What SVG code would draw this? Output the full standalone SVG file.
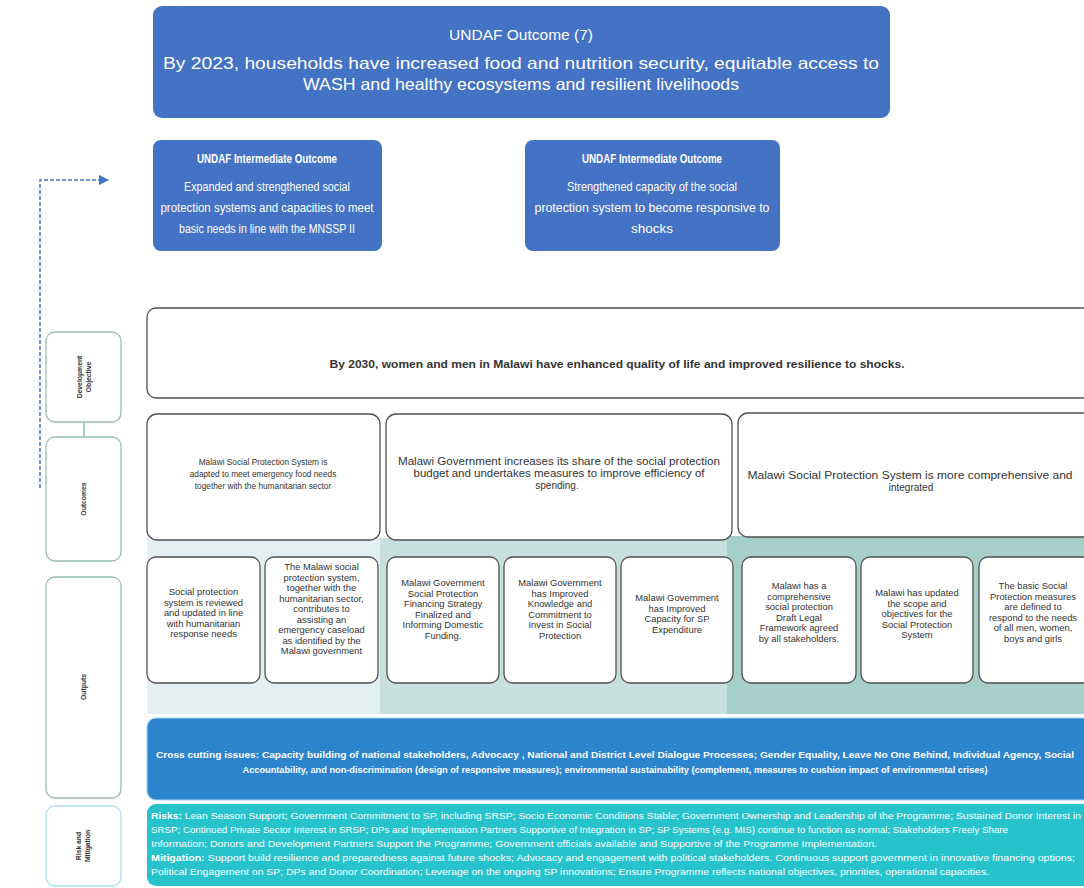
<svg xmlns="http://www.w3.org/2000/svg" width="1084" height="888" viewBox="0 0 1084 888">
<defs>
<style>
.blue{fill:#4472c4;}
.wt{fill:#ffffff;font-family:"Liberation Sans",Arial,sans-serif;text-anchor:middle;}
.box{fill:#ffffff;stroke:#505050;stroke-width:1.3;}
.lab{fill:#ffffff;stroke:#98bdb0;stroke-width:1.3;}
.t{fill:#333333;font-family:"Liberation Sans",Arial,sans-serif;text-anchor:middle;}
.o{font-size:9.4px;}
.oc{font-size:8.3px;}
.oc2{font-size:10px;}
.vl{fill:#333333;font-family:"Liberation Sans",Arial,sans-serif;text-anchor:middle;font-size:6.8px;font-weight:bold;}
.band{fill:#ffffff;font-family:"Liberation Sans",Arial,sans-serif;font-size:8.2px;}
</style>
<marker id="ah" markerWidth="10" markerHeight="10" refX="9" refY="5" orient="auto" markerUnits="userSpaceOnUse">
<path d="M0,0 L10,5 L0,10 Z" fill="#4472c4"/>
</marker>
</defs>
<rect width="1084" height="888" fill="#ffffff"/>

<g id="connectors">
<path d="M40,488 L40,180 L108,180" fill="none" stroke="#4472c4" stroke-width="1.5" stroke-dasharray="4,2" marker-end="url(#ah)"/>
<line x1="84" y1="422" x2="84" y2="437" stroke="#a9cfc8" stroke-width="2"/>
</g>

<g id="undaf-outcome">
<rect x="153" y="6" width="737" height="112" rx="9" class="blue"/>
<text x="521" y="40" class="wt" font-size="15.5">UNDAF Outcome (7)</text>
<text x="521" y="69" class="wt" font-size="16.5" textLength="716" lengthAdjust="spacingAndGlyphs">By 2023, households have increased food and nutrition security, equitable access to</text>
<text x="521" y="90" class="wt" font-size="16.5" textLength="436" lengthAdjust="spacingAndGlyphs">WASH and healthy ecosystems and resilient livelihoods</text>
</g>

<g id="intermediate-1">
<rect x="153" y="140" width="229" height="111" rx="8" class="blue"/>
<text x="267" y="163" class="wt" font-size="12" font-weight="bold" textLength="140" lengthAdjust="spacingAndGlyphs">UNDAF Intermediate Outcome</text>
<text x="267" y="191" class="wt" font-size="13" textLength="166" lengthAdjust="spacingAndGlyphs">Expanded and strengthened social</text>
<text x="267" y="212" class="wt" font-size="13" textLength="213" lengthAdjust="spacingAndGlyphs">protection systems and capacities to meet</text>
<text x="267" y="233" class="wt" font-size="13" textLength="176" lengthAdjust="spacingAndGlyphs">basic needs in line with the MNSSP II</text>
</g>

<g id="intermediate-2">
<rect x="525" y="140" width="255" height="111" rx="8" class="blue"/>
<text x="652" y="163" class="wt" font-size="12" font-weight="bold" textLength="140" lengthAdjust="spacingAndGlyphs">UNDAF Intermediate Outcome</text>
<text x="652" y="191" class="wt" font-size="13" textLength="170" lengthAdjust="spacingAndGlyphs">Strengthened capacity of the social</text>
<text x="652" y="212" class="wt" font-size="13" textLength="235" lengthAdjust="spacingAndGlyphs">protection system to become responsive to</text>
<text x="652" y="233" class="wt" font-size="13" textLength="42" lengthAdjust="spacingAndGlyphs">shocks</text>
</g>

<g id="label-development-objective">
<rect x="46" y="332" width="75" height="90" rx="9" class="lab"/>
<text class="vl" transform="translate(82,377) rotate(-90)">Development</text>
<text class="vl" transform="translate(91,377) rotate(-90)">Objective</text>
</g>
<g id="label-outcomes">
<rect x="46" y="437" width="75" height="124" rx="9" class="lab"/>
<text class="vl" transform="translate(86,499) rotate(-90)">Outcomes</text>
</g>
<g id="label-outputs">
<rect x="46" y="577" width="75" height="221" rx="9" class="lab"/>
<text class="vl" transform="translate(86,687) rotate(-90)">Outputs</text>
</g>
<g id="label-risk">
<rect x="46" y="806" width="75" height="80" rx="9" fill="#ffffff" stroke="#a8e6ea" stroke-width="1.3"/>
<text class="vl" transform="translate(81,846) rotate(-90)">Risk and</text>
<text class="vl" transform="translate(90,846) rotate(-90)">Mitigation</text>
</g>

<g id="panels">
<rect x="147" y="538" width="233" height="176" fill="#e3eff0"/>
<rect x="380" y="538" width="347" height="176" fill="#c7dfdd"/>
<rect x="727" y="536" width="357" height="178" fill="#a7cfca"/>
</g>

<g id="development-objective">
<rect x="147" y="308" width="945" height="90" rx="9" class="box"/>
<text x="617" y="368" class="t" font-size="10.5" font-weight="bold" textLength="575" lengthAdjust="spacingAndGlyphs">By 2030, women and men in Malawi have enhanced quality of life and improved resilience to shocks.</text>
</g>

<g id="outcome-1">
<rect x="147" y="414" width="233" height="126" rx="10" class="box"/>
<text class="t oc" x="263" y="465">Malawi Social Protection System is</text>
<text class="t oc" x="263" y="477">adapted to meet emergency food needs</text>
<text class="t oc" x="263" y="489">together with the humanitarian sector</text>
</g>
<g id="outcome-2">
<rect x="386" y="414" width="346" height="126" rx="10" class="box"/>
<text class="t oc2" x="559" y="465" textLength="322" lengthAdjust="spacingAndGlyphs">Malawi Government increases its share of the social protection</text>
<text class="t oc2" x="559" y="477" textLength="291" lengthAdjust="spacingAndGlyphs">budget and undertakes measures to improve efficiency of</text>
<text class="t oc2" x="557" y="489">spending.</text>
</g>
<g id="outcome-3">
<rect x="738" y="413" width="360" height="124" rx="10" class="box"/>
<text class="t oc2" x="910" y="479" textLength="325" lengthAdjust="spacingAndGlyphs">Malawi Social Protection System is more comprehensive and</text>
<text class="t oc2" x="911" y="491">integrated</text>
</g>

<g id="output-1">
<rect x="147" y="557" width="113" height="126" rx="9" class="box"/>
<text class="t o" x="203.5" y="595">Social protection</text>
<text class="t o" x="203.5" y="605.5">system is reviewed</text>
<text class="t o" x="203.5" y="616">and updated in line</text>
<text class="t o" x="203.5" y="626.5">with humanitarian</text>
<text class="t o" x="203.5" y="637">response needs</text>
</g>
<g id="output-2">
<rect x="265" y="557" width="113" height="126" rx="9" class="box"/>
<text class="t o" x="321.5" y="570">The Malawi social</text>
<text class="t o" x="321.5" y="580.5">protection system,</text>
<text class="t o" x="321.5" y="591">together with the</text>
<text class="t o" x="321.5" y="601.5">humanitarian sector,</text>
<text class="t o" x="321.5" y="612">contributes to</text>
<text class="t o" x="321.5" y="622.5">assisting an</text>
<text class="t o" x="321.5" y="633">emergency caseload</text>
<text class="t o" x="321.5" y="643.5">as identified by the</text>
<text class="t o" x="321.5" y="654">Malawi government</text>
</g>
<g id="output-3">
<rect x="387" y="557" width="112" height="126" rx="9" class="box"/>
<text class="t o" x="443" y="586">Malawi Government</text>
<text class="t o" x="443" y="596.5">Social Protection</text>
<text class="t o" x="443" y="607">Financing Strategy</text>
<text class="t o" x="443" y="617.5">Finalized and</text>
<text class="t o" x="443" y="628">Informing Domestic</text>
<text class="t o" x="443" y="638.5">Funding.</text>
</g>
<g id="output-4">
<rect x="504" y="557" width="112" height="126" rx="9" class="box"/>
<text class="t o" x="560" y="586">Malawi Government</text>
<text class="t o" x="560" y="596.5">has Improved</text>
<text class="t o" x="560" y="607">Knowledge and</text>
<text class="t o" x="560" y="617.5">Commitment to</text>
<text class="t o" x="560" y="628">Invest in Social</text>
<text class="t o" x="560" y="638.5">Protection</text>
</g>
<g id="output-5">
<rect x="621" y="557" width="112" height="126" rx="9" class="box"/>
<text class="t o" x="677" y="601">Malawi Government</text>
<text class="t o" x="677" y="611.5">has Improved</text>
<text class="t o" x="677" y="622">Capacity for SP</text>
<text class="t o" x="677" y="632.5">Expenditure</text>
</g>
<g id="output-6">
<rect x="742" y="557" width="114" height="126" rx="9" class="box"/>
<text class="t o" x="799" y="589">Malawi has a</text>
<text class="t o" x="799" y="599.5">comprehensive</text>
<text class="t o" x="799" y="610">social protection</text>
<text class="t o" x="799" y="620.5">Draft Legal</text>
<text class="t o" x="799" y="631">Framework agreed</text>
<text class="t o" x="799" y="641.5">by all stakeholders.</text>
</g>
<g id="output-7">
<rect x="861" y="557" width="112" height="126" rx="9" class="box"/>
<text class="t o" x="917" y="596">Malawi has updated</text>
<text class="t o" x="917" y="606.5">the scope and</text>
<text class="t o" x="917" y="617">objectives for the</text>
<text class="t o" x="917" y="627.5">Social Protection</text>
<text class="t o" x="917" y="638">System</text>
</g>
<g id="output-8">
<rect x="979" y="557" width="120" height="126" rx="9" class="box"/>
<text class="t o" x="1033" y="589">The basic Social</text>
<text class="t o" x="1033" y="599.5">Protection measures</text>
<text class="t o" x="1033" y="610">are defined to</text>
<text class="t o" x="1033" y="620.5">respond to the needs</text>
<text class="t o" x="1033" y="631">of all men, women,</text>
<text class="t o" x="1033" y="641.5">boys and girls</text>
</g>

<g id="cross-cutting">
<rect x="147" y="718" width="950" height="82" rx="9" fill="#2c84cf" stroke="#9fd3f0" stroke-width="1.2"/>
<text class="band" x="615" y="758" text-anchor="middle" font-weight="bold" textLength="918" lengthAdjust="spacingAndGlyphs">Cross cutting issues: Capacity building of national stakeholders, Advocacy , National and District Level Dialogue Processes; Gender Equality, Leave No One Behind, Individual Agency, Social</text>
<text class="band" x="615" y="773" text-anchor="middle" font-weight="bold" textLength="745" lengthAdjust="spacingAndGlyphs">Accountability,  and non-discrimination (design of responsive measures); environmental sustainability (complement, measures to cushion impact of environmental crises)</text>
</g>

<g id="risk-mitigation">
<rect x="147" y="804" width="950" height="82" rx="9" fill="#27c3cd"/>
<text class="band" x="151" y="819" textLength="930" lengthAdjust="spacingAndGlyphs"><tspan font-weight="bold">Risks:</tspan> Lean Season Support; Government Commitment to SP, including SRSP; Socio Economic Conditions Stable; Government Ownership and Leadership of the Programme; Sustained Donor Interest in</text>
<text class="band" x="151" y="833" textLength="857" lengthAdjust="spacingAndGlyphs">SRSP; Continued Private Sector Interest in SRSP; DPs and Implementation Partners Supportive of Integration in SP; SP Systems (e.g. MIS) continue to function as normal; Stakeholders Freely Share</text>
<text class="band" x="151" y="847" textLength="726" lengthAdjust="spacingAndGlyphs">Information; Donors and Development Partners Support the Programme; Government officials available and Supportive of the Programme Implementation.</text>
<text class="band" x="151" y="861" textLength="924" lengthAdjust="spacingAndGlyphs"><tspan font-weight="bold">Mitigation:</tspan> Support  build resilience and preparedness against future shocks; Advocacy and engagement with political stakeholders. Continuous support government in innovative financing options;</text>
<text class="band" x="151" y="875" textLength="838" lengthAdjust="spacingAndGlyphs">Political Engagement on SP; DPs and Donor Coordination; Leverage on the ongoing SP innovations; Ensure Programme reflects national objectives, priorities, operational capacities.</text>
</g>
</svg>
